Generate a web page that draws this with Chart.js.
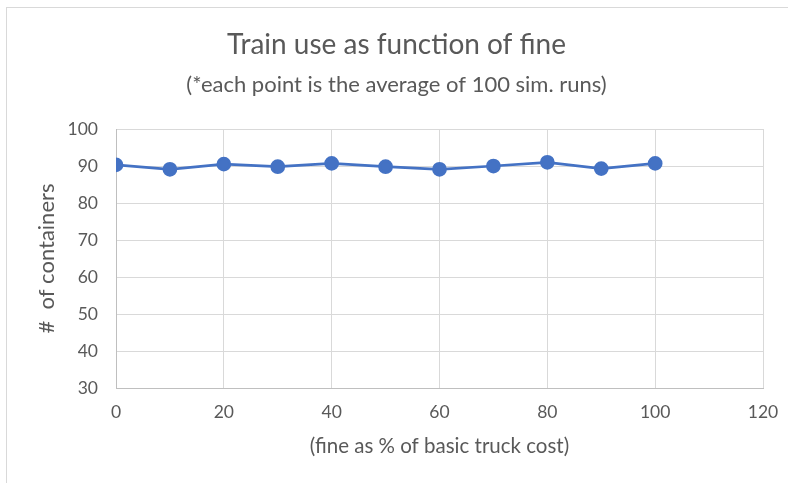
<!DOCTYPE html>
<html>
<head>
<meta charset="utf-8">
<script src="https://cdn.jsdelivr.net/npm/chart.js@4"></script>
<style>
    body { margin: 0; background: #fff; }
    #wrap { position: relative; width: 788px; height: 483px; }
    #frame { position: absolute; left: 6px; top: 7px; width: 800px; height: 500px; border: 1px solid #d9d9d9; box-sizing: border-box; }
    canvas { position: absolute; left: 0; top: 0; }
</style>
</head>
<body>
<div id="wrap">
    <div id="frame"></div>
    <canvas id="chart" width="788" height="483"></canvas>
</div>
<script>
// Fine levels (% of basic truck cost) and average containers by train
const fineLevels = [0, 10, 20, 30, 40, 50, 60, 70, 80, 90, 100];
const containers = [90.3, 89.1, 90.5, 89.8, 90.7, 89.8, 89.1, 90.0, 91.0, 89.3, 90.7];

const textColor = '#595959';
const gridColor = '#d9d9d9';
const fontFamily = 'Lato, "Open Sans", sans-serif';

const points = fineLevels.map((x, i) => ({ x: x, y: containers[i] }));

new Chart(document.getElementById('chart'), {
    type: 'line',
    data: {
        datasets: [{
            label: 'Train use',
            data: points,
            borderColor: '#4472c4',
            backgroundColor: '#4472c4',
            borderWidth: 2.75,
            pointRadius: 6,
            pointBackgroundColor: '#4472c4',
            pointBorderColor: '#4472c4',
            tension: 0
        }]
    },
    options: {
        responsive: false,
        animation: false,
        layout: { padding: { left: 30, right: 25, top: 0, bottom: 20 } },
        plugins: {
            legend: { display: false },
            tooltip: { enabled: false },
            title: {
                display: true,
                text: 'Train use as function of fine',
                color: textColor,
                font: { family: fontFamily, size: 28, weight: 'normal' },
                padding: { top: 28, bottom: 10 }
            },
            subtitle: {
                display: true,
                text: '(*each point is the average of 100 sim. runs)',
                color: textColor,
                font: { family: fontFamily, size: 22, weight: 'normal' },
                padding: { top: 0, bottom: 31 }
            }
        },
        scales: {
            x: {
                type: 'linear',
                min: 0,
                max: 120,
                ticks: { stepSize: 20, color: textColor, padding: 14, font: { family: fontFamily, size: 17.5 } },
                grid: { color: gridColor, drawTicks: false },
                border: { color: '#bfbfbf' },
                title: {
                    display: true,
                    text: '(fine as % of basic truck cost)',
                    color: textColor,
                    font: { family: fontFamily, size: 20.5 }
                },
                afterFit: scale => {
                    scale.height = 75;
                    scale.paddingLeft = 0;
                    scale.paddingRight = 0;
                }
            },
            y: {
                min: 30,
                max: 100,
                ticks: { stepSize: 10, color: textColor, padding: 18, font: { family: fontFamily, size: 17.5 } },
                grid: { color: gridColor, drawTicks: false },
                border: { color: '#bfbfbf' },
                title: {
                    display: true,
                    text: '#  of containers',
                    color: textColor,
                    font: { family: fontFamily, size: 22 }
                },
                afterFit: scale => { scale.width = 86; }
            }
        }
    }
});
</script>
</body>
</html>
